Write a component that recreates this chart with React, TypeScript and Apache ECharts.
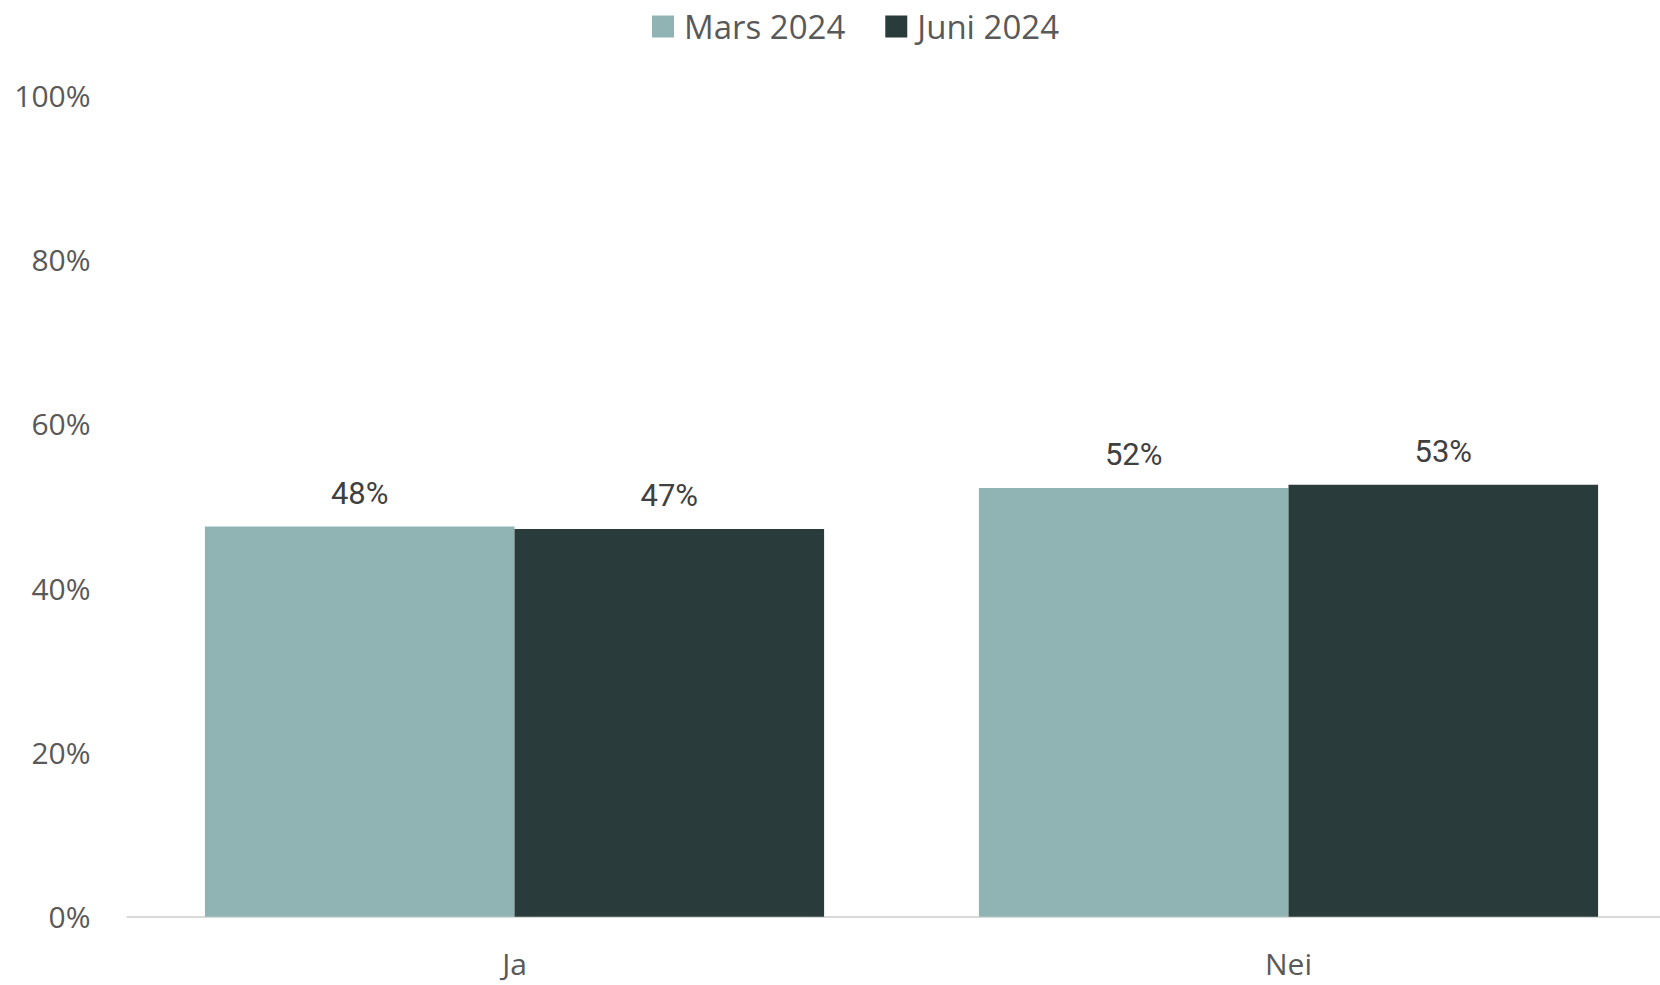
import React, { useEffect, useRef } from "react";
import * as echarts from "echarts";

const categories = ["Ja", "Nei"];
const seriesNames = ["Mars 2024", "Juni 2024"];
const mars2024 = [47.5, 52.2];
const juni2024 = [47.2, 52.6];
const colors = ["#8fb4b3", "#2a3b3b"];
const FONT = "'Open Sans', 'Noto Sans', sans-serif";

export default function App() {
  const ref = useRef<HTMLDivElement>(null);
  useEffect(() => {
    if (!ref.current) return;
    const chart = echarts.init(ref.current, undefined, { renderer: "svg" });
    const label = {
      show: true,
      position: "top",
      distance: 18,
      fontFamily: "Roboto, sans-serif",
      fontSize: 31,
      color: "#404040",
      formatter: (p: any) => Math.round(p.value) + "%",
    };
    chart.setOption({
      animation: false,
      textStyle: { fontFamily: FONT },
      color: colors,
      legend: {
        top: 5,
        left: 647,
        itemWidth: 22,
        itemHeight: 22,
        itemGap: 40,
        icon: "rect",
        textStyle: { fontSize: 33, color: "#595959", fontFamily: FONT, padding: [0, 0, 0, 5] },
        data: seriesNames,
      },
      grid: {
        left: 127.5,
        width: 1548,
        top: 95.3,
        bottom: 68.2,
        containLabel: false,
        outerBoundsMode: "none",
      },
      xAxis: {
        type: "category",
        data: categories,
        axisLine: { lineStyle: { color: "#d9d9d9", width: 2 } },
        axisTick: { show: false },
        axisLabel: { fontSize: 30, color: "#595959", margin: 32, fontFamily: FONT },
      },
      yAxis: {
        type: "value",
        min: 0,
        max: 100,
        interval: 20,
        splitLine: { show: false },
        axisLine: { show: false },
        axisTick: { show: false },
        axisLabel: {
          fontSize: 30,
          color: "#595959",
          margin: 37,
          fontFamily: FONT,
          formatter: (v: number) => v + "%",
        },
      },
      series: [
        {
          name: seriesNames[0],
          type: "bar",
          data: mars2024,
          barGap: "0%",
          barCategoryGap: "20%",
          label,
        },
        {
          name: seriesNames[1],
          type: "bar",
          data: juni2024,
          barGap: "0%",
          barCategoryGap: "20%",
          label,
        },
      ],
    });
    return () => chart.dispose();
  }, []);
  return <div ref={ref} style={{ width: 1660, height: 985, position: "absolute", left: 0, top: 0 }} />;
}
